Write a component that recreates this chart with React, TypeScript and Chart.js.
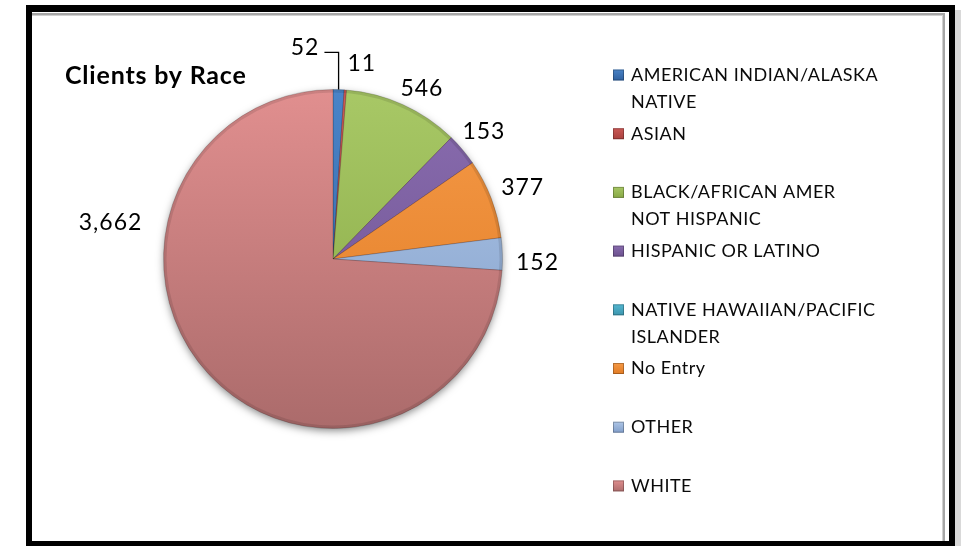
import React, { useEffect, useRef } from "react";
import { Chart, registerables } from "chart.js";

Chart.register(...registerables);

// ---- data ----
const chartTitle = "Clients by Race";
const categories = [
  "AMERICAN INDIAN/ALASKA NATIVE",
  "ASIAN",
  "BLACK/AFRICAN AMER NOT HISPANIC",
  "HISPANIC OR LATINO",
  "NATIVE HAWAIIAN/PACIFIC ISLANDER",
  "No Entry",
  "OTHER",
  "WHITE",
];
const legendLines = [
  ["AMERICAN INDIAN/ALASKA", "NATIVE"],
  ["ASIAN"],
  ["BLACK/AFRICAN AMER", "NOT HISPANIC"],
  ["HISPANIC OR LATINO"],
  ["NATIVE HAWAIIAN/PACIFIC", "ISLANDER"],
  ["No Entry"],
  ["OTHER"],
  ["WHITE"],
];
const clients = [52, 11, 546, 153, 0, 377, 152, 3662];

// ---- styles ----
const topColors = ["#4a84c8", "#cc5a57", "#a8c866", "#8a6db0", "#55b8d2", "#f59a48", "#b0c8e8", "#e18f8f"];
const bottomColors = ["#2e5f9e", "#a8403d", "#86a743", "#6a4f8c", "#3a93ab", "#e07a22", "#7f9cc8", "#ab6b6b"];
// label placement: [angle shift (deg) from slice mid-angle, distance beyond outer radius (px)]
const labelPlacement: [number, number][] = [
  [-9.4, 44],
  [4.2, 28],
  [3.1, 23],
  [0, 28],
  [0, 30],
  [0.4, 33],
  [2.8, 35],
  [52.5, 56],
];

const FONT = "Lato, 'Open Sans', sans-serif";

const framePlugin = {
  id: "frame",
  beforeDraw(chart: any) {
    const c = chart.ctx;
    const W = chart.width;
    const H = chart.height;
    c.save();
    c.fillStyle = "#ffffff";
    c.fillRect(0, 0, W, H);
    c.fillStyle = "#d9d9d9";
    c.fillRect(955, 10, W - 955, H - 10);
    c.fillStyle = "#000000";
    c.fillRect(26, 5, 929, 545);
    c.fillStyle = "#ffffff";
    c.fillRect(32, 12, 917, 529);
    c.fillStyle = "#a6a6a6";
    c.fillRect(32, 13, 913, 2);
    c.fillRect(943, 13, 2, 528);
    c.fillStyle = "#d0d0d0";
    c.fillRect(32, 15, 911, 1);
    c.fillRect(942, 15, 1, 526);
    // title
    c.fillStyle = "#000000";
    c.font = `bold 25px ${FONT}`;
    (c as any).letterSpacing = "0.8px";
    c.textAlign = "left";
    c.textBaseline = "middle";
    c.fillText(chartTitle, 65, 76);
    (c as any).letterSpacing = "0px";
    c.restore();
  },
  beforeDatasetsDraw(chart: any) {
    const arc = chart.getDatasetMeta(0).data[0];
    if (!arc) return;
    const { x, y, outerRadius } = arc.getProps(["x", "y", "outerRadius"], true);
    const c = chart.ctx;
    c.save();
    c.shadowColor = "rgba(0,0,0,0.5)";
    c.shadowBlur = 8;
    c.shadowOffsetX = 0;
    c.shadowOffsetY = 3;
    c.fillStyle = "#c07a7a";
    c.beginPath();
    c.arc(x, y, outerRadius - 1, 0, Math.PI * 2);
    c.fill();
    c.restore();
  },
  afterDatasetsDraw(chart: any) {
    const meta = chart.getDatasetMeta(0);
    const c = chart.ctx;
    c.save();
    // soft bevel on the rim
    const a0 = meta.data[0];
    const p0 = a0.getProps(["x", "y", "outerRadius"], true);
    c.strokeStyle = "rgba(0,0,0,0.10)";
    c.lineWidth = 3;
    c.beginPath();
    c.arc(p0.x, p0.y, p0.outerRadius - 1.5, 0, Math.PI * 2);
    c.stroke();

    c.font = `23px ${FONT}`;
    (c as any).letterSpacing = "1px";
    c.fillStyle = "#000000";
    c.textAlign = "center";
    c.textBaseline = "middle";
    meta.data.forEach((arc: any, i: number) => {
      const v = clients[i];
      if (!v) return;
      const { x, y, startAngle, endAngle, outerRadius } = arc.getProps(
        ["x", "y", "startAngle", "endAngle", "outerRadius"],
        true
      );
      const mid = (startAngle + endAngle) / 2;
      const [shift, extra] = labelPlacement[i];
      const ang = mid + (shift * Math.PI) / 180;
      const r = outerRadius + extra;
      const lx = x + Math.cos(ang) * r;
      const ly = y + Math.sin(ang) * r;
      const text = v.toLocaleString("en-US");
      c.fillText(text, lx, ly);
      if (i === 0) {
        // leader line
        const ex = x + Math.cos(mid) * outerRadius;
        const ey = y + Math.sin(mid) * outerRadius;
        const w = c.measureText(text).width;
        c.strokeStyle = "#000000";
        c.lineWidth = 1.3;
        c.beginPath();
        c.moveTo(lx + w / 2 + 5, ly + 5);
        c.lineTo(ex, ly + 5);
        c.lineTo(ex, ey);
        c.stroke();
      }
    });

    // legend
    const lx0 = 613;
    const tx0 = 631;
    const y0 = 75;
    const step = 58.7;
    const lineH = 27;
    c.textAlign = "left";
    c.font = `18px ${FONT}`;
    (c as any).letterSpacing = "0.5px";
    legendLines.forEach((lines, i) => {
      const yy = y0 + i * step;
      const g = c.createLinearGradient(0, yy - 6, 0, yy + 6);
      g.addColorStop(0, topColors[i]);
      g.addColorStop(1, bottomColors[i]);
      c.fillStyle = g;
      c.fillRect(lx0, yy - 5.5, 11, 11);
      c.strokeStyle = "rgba(0,0,0,0.25)";
      c.lineWidth = 1;
      c.strokeRect(lx0 + 0.5, yy - 5, 10, 10);
      c.fillStyle = "#0a0a0a";
      lines.forEach((ln, j) => c.fillText(ln, tx0, yy + j * lineH));
    });
    (c as any).letterSpacing = "0px";
    c.restore();
  },
};

export default function App() {
  const ref = useRef<HTMLCanvasElement | null>(null);
  useEffect(() => {
    if (!ref.current) return;
    const chart = new Chart(ref.current, {
      type: "pie",
      data: {
        labels: categories,
        datasets: [
          {
            data: clients,
            backgroundColor: (ctx: any) => {
              const i = ctx.dataIndex;
              const ch = ctx.chart;
              const area = ch.chartArea;
              if (!area) return topColors[i];
              const g = ch.ctx.createLinearGradient(0, area.top, 0, area.bottom);
              g.addColorStop(0, topColors[i]);
              g.addColorStop(1, bottomColors[i]);
              return g;
            },
            borderColor: "rgba(0,0,0,0.18)",
            borderWidth: 1,
            hoverOffset: 0,
            offset: 0,
          },
        ],
      },
      options: {
        responsive: false,
        animation: false,
        events: [],
        layout: { padding: { left: 163, right: 458, top: 89, bottom: 117 } },
        plugins: {
          legend: { display: false },
          title: { display: false },
          tooltip: { enabled: false },
        },
      },
      plugins: [framePlugin],
    });
    return () => chart.destroy();
  }, []);
  return (
    <div style={{ position: "fixed", left: 0, top: 0, width: 961, height: 546 }}>
      <canvas ref={ref} width={961} height={546} style={{ width: 961, height: 546, display: "block" }} />
    </div>
  );
}
